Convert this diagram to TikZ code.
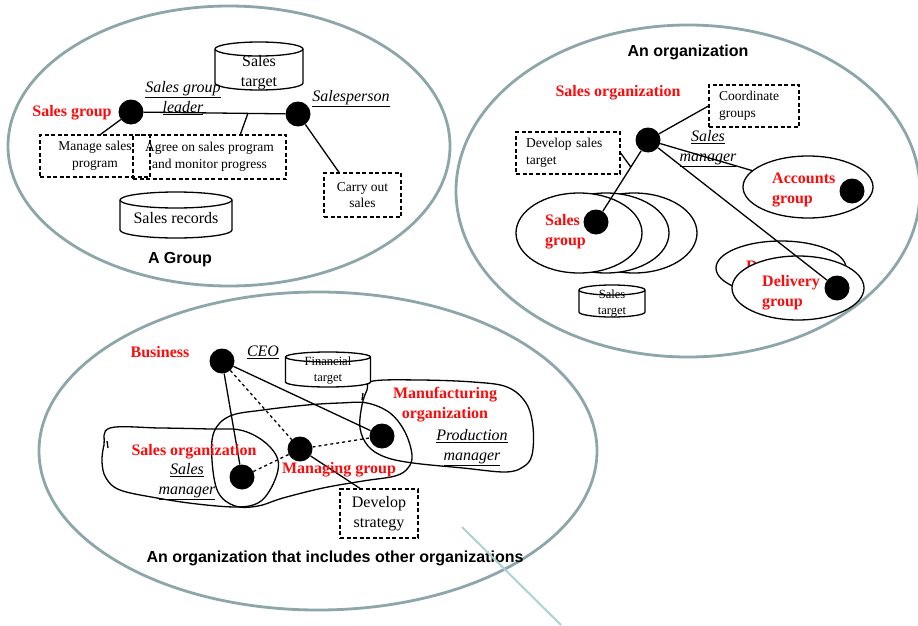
\documentclass[tikz,border=0pt]{standalone}
\usepackage{fontspec}
\setmainfont{Liberation Serif}
\newfontfamily\headfont{Liberation Sans}
\usetikzlibrary{calc,shapes.geometric}

\definecolor{rim}{RGB}{140,166,170}
\definecolor{strayline}{RGB}{172,210,212}
\definecolor{lblred}{RGB}{250,12,12}

\newcommand\bigtxt{\fontsize{16}{20}\selectfont}
\newcommand\boxtxt{\fontsize{13.5}{16.5}\selectfont}
\newcommand\smalltxt{\fontsize{12.5}{16}\selectfont}

% drum (data store): #1 name, #2 centre x, #3 top y, #4 width, #5 height, #6 cap radius
\newcommand\drumshape[6]{%
  \filldraw[ln, fill=white] ({#2-#4/2},{#3+#6}) -- ({#2-#4/2},{#3+#5-#6})
    arc[start angle=180, end angle=0, x radius={#4/2}, y radius=#6]
    -- ({#2+#4/2},{#3+#6})
    arc[start angle=0, end angle=-180, x radius={#4/2}, y radius=#6] -- cycle;
  \draw[ln] ({#2-#4/2},{#3+#6})
    arc[start angle=180, end angle=0, x radius={#4/2}, y radius=#6];
  \coordinate (#1) at (#2,{#3+#5/2});
}

\tikzset{
  ln/.style={line width=1.3pt, draw=black},
  bigring/.style={draw=rim, line width=2.8pt, ellipse, inner sep=0pt},
  blackdot/.style={circle, fill=black, minimum size=25pt, inner sep=0pt},
  dbox/.style={draw, line width=1.2pt, dash pattern=on 4pt off 2.5pt,
    inner sep=0pt, align=center, font=\boxtxt},
  redlbl/.style={text=lblred, font=\bigtxt\bfseries, inner sep=0pt, align=center},
  rolelbl/.style={font=\bigtxt\itshape, inner sep=0pt, align=center},
  headlbl/.style={font=\headfont\bigtxt\bfseries, inner sep=0pt},
  grpell/.style={draw, ellipse, line width=1.3pt, fill=white, inner sep=0pt},
  drumtxt/.style={inner sep=0pt, align=center},
  blob/.style={line width=1.3pt, draw=black},
}

\begin{document}
\begin{tikzpicture}[x=1pt, y=-1pt]
\useasboundingbox (0,0) rectangle (918,626);
\fill[white] (0,0) rectangle (918,626);

% ---------- the three enclosing rings ----------
\node[bigring, minimum width=442pt, minimum height=280pt] (ringgroup) at (229,146) {};
\node[bigring, minimum width=464pt, minimum height=332pt] (ringorg) at (688,191) {};
\node[bigring, minimum width=558pt, minimum height=318pt] (ringbiz) at (318,451) {};

% ---------- A Group ----------
\drumshape{tgtA}{259}{42}{88}{48}{7}
\node[drumtxt, font=\bigtxt] (tgtAtxt) at (259,72.5) {Sales\\target};
\drumshape{recs}{176}{192}{112}{46}{8}
\node[drumtxt, font=\bigtxt] (recstxt) at (176,218) {Sales records};

\node[dbox, minimum width=110pt, minimum height=42pt] (manage) at (95,156) {Manage sales\\program};
\node[dbox, minimum width=153pt, minimum height=44pt] (agree) at (209.5,157) {Agree on sales program\\and monitor progress};
\node[dbox, minimum width=77pt, minimum height=44pt] (carry) at (362.5,195) {Carry out\\sales};

\node[blackdot] (sgl) at (131,112) {};
\node[blackdot] (sp) at (298,114) {};
\draw[ln] (sgl) -- (sp);
\draw[ln] ($(sgl)!0.7!(sp)$) -- ($(agree.north west)!0.7!(agree.north east)$);
\draw[ln] (sgl) -- ($(manage.north west)!0.55!(manage.north east)$);
\draw[ln] (sp) -- ($(carry.north west)!0.2!(carry.north east)$);

\node[redlbl] (sgname) at (72,113) {Sales group};
\node[rolelbl] (sgltxt) at (183,98) {\underline{Sales group}\\\underline{leader}};
\node[rolelbl] (sptxt) at (351,99) {\underline{Salesperson}};
\node[headlbl] (grouptitle) at (180,260) {A Group};

% ---------- An organization ----------
\node[grpell, minimum width=126pt, minimum height=80pt] (sgC) at (634,233) {};
\node[grpell, minimum width=126pt, minimum height=80pt] (sgB) at (606,233) {};
\node[grpell, minimum width=126pt, minimum height=80pt] (sgA) at (579,233) {};
\node[grpell, minimum width=130pt, minimum height=62pt] (accts) at (808,187) {};
\node[grpell, minimum width=130pt, minimum height=54pt] (delB) at (781,268) {};
\node[redlbl, anchor=west, align=left] (delBtxt) at (746,278) {Delivery\\group};
\node[grpell, minimum width=132pt, minimum height=64pt] (delA) at (798,288) {};

\drumshape{tgtB}{612}{285}{66}{32}{5}
\node[drumtxt, font=\smalltxt] (tgtBtxt) at (612,304) {Sales\\target};

\node[dbox, minimum width=90pt, minimum height=42pt, text width=70pt, align=left] (coord) at (754,106) {Coordinate\\groups};
\node[dbox, minimum width=104pt, minimum height=42pt, text width=84pt, align=left] (devst) at (568,153) {Develop sales\\target};

\node[blackdot] (so) at (648,140) {};
\node[blackdot] (sgdot) at (596,222) {};
\node[blackdot] (acdot) at (852,191) {};
\node[blackdot] (deldot) at (837,288) {};

\draw[ln] (so) -- (coord.west);
\draw[ln] (so) -- (sgdot);
\draw[ln] (devst.east) -- ($(so)!0.33!(sgdot)$);
\draw[ln] (so) -- (accts);
\draw[ln] (so) -- (deldot);

\node[headlbl] (orgtitle) at (688,52) {An organization};
\node[redlbl] (soname) at (618,93) {Sales organization};
\node[rolelbl] (smtxt) at (708,149) {\underline{Sales}\\\underline{manager}};
\node[redlbl, anchor=west, align=left] (acname) at (772,190) {Accounts\\group};
\node[redlbl, anchor=west, align=left] (sgtxt) at (545,232) {Sales\\group};
\node[redlbl, anchor=west, align=left] (deltxt) at (762,293) {Delivery\\group};

% ---------- An organization that includes other organizations ----------
\draw[blob] plot[smooth cycle, tension=0.6] coordinates {
  (110,428) (160,428) (210,429) (240,430) (262,440) (276,455) (278,470)
  (270,490) (258,503) (237,507) (197,504) (157,498) (120,490) (106,478)
  (102,462) (104,445)};
\draw[blob] (107,441) -- (108,448);
\draw[blob] plot[smooth cycle, tension=0.6] coordinates {
  (230,416) (263,410) (307,405) (340,403) (367,403) (390,413) (405,432)
  (412,455) (408,468) (395,476) (363,481) (323,488) (283,498) (258,506)
  (235,506) (218,492) (212,460) (214,432)};
\draw[blob] plot[smooth cycle, tension=0.6] coordinates {
  (373,381) (420,380) (473,382) (507,387) (526,403) (533,427) (532,455)
  (523,467) (505,472) (463,468) (413,463) (385,457) (368,446) (360,428)
  (362,405) (367,390)};
\draw[blob] (363,393) -- (362,400);

\drumshape{fin}{328}{352}{85}{35}{5}
\node[drumtxt, font=\smalltxt] (fintxt) at (328,371) {Financial\\target};

\node[dbox, minimum width=78pt, minimum height=49pt, font=\bigtxt] (strat) at (379,513.5) {Develop\\strategy};

\node[blackdot] (ceo) at (222,361) {};
\node[blackdot] (smdot) at (242,477) {};
\node[blackdot] (mgdot) at (300,449) {};
\node[blackdot] (mfdot) at (382,436) {};

\draw[ln] (ceo) -- (smdot);
\draw[ln] (ceo) -- (mfdot);
\draw[ln, dashed] (ceo) -- (mgdot);
\draw[ln, dashed] (smdot) -- (mgdot);
\draw[ln, dashed] (mgdot) -- (mfdot);
\draw[ln] (mgdot) -- ($(strat.north west)!0.26!(strat.north east)$);

\node[redlbl] (bizname) at (160,352) {Business};
\node[rolelbl] (ceotxt) at (263,352) {\underline{CEO}};
\node[redlbl] (sorgname) at (194,452) {Sales organization};
\node[rolelbl] (smgrtxt) at (187,482) {\underline{Sales}\\\underline{manager}};
\node[redlbl] (mgname) at (339,470) {Managing group};
\node[redlbl] (mfname) at (445,405) {Manufacturing\\organization};
\node[rolelbl] (pmtxt) at (472,448) {\underline{Production}\\\underline{manager}};
\node[headlbl] (biztitle) at (335,558) {An organization that includes other organizations};

% faint stroke crossing the lower right
\coordinate (strayA) at (462,527);
\coordinate (strayB) at (561,625);
\draw[strayline, line width=2pt] (strayA) -- (strayB);
\end{tikzpicture}
\end{document}
